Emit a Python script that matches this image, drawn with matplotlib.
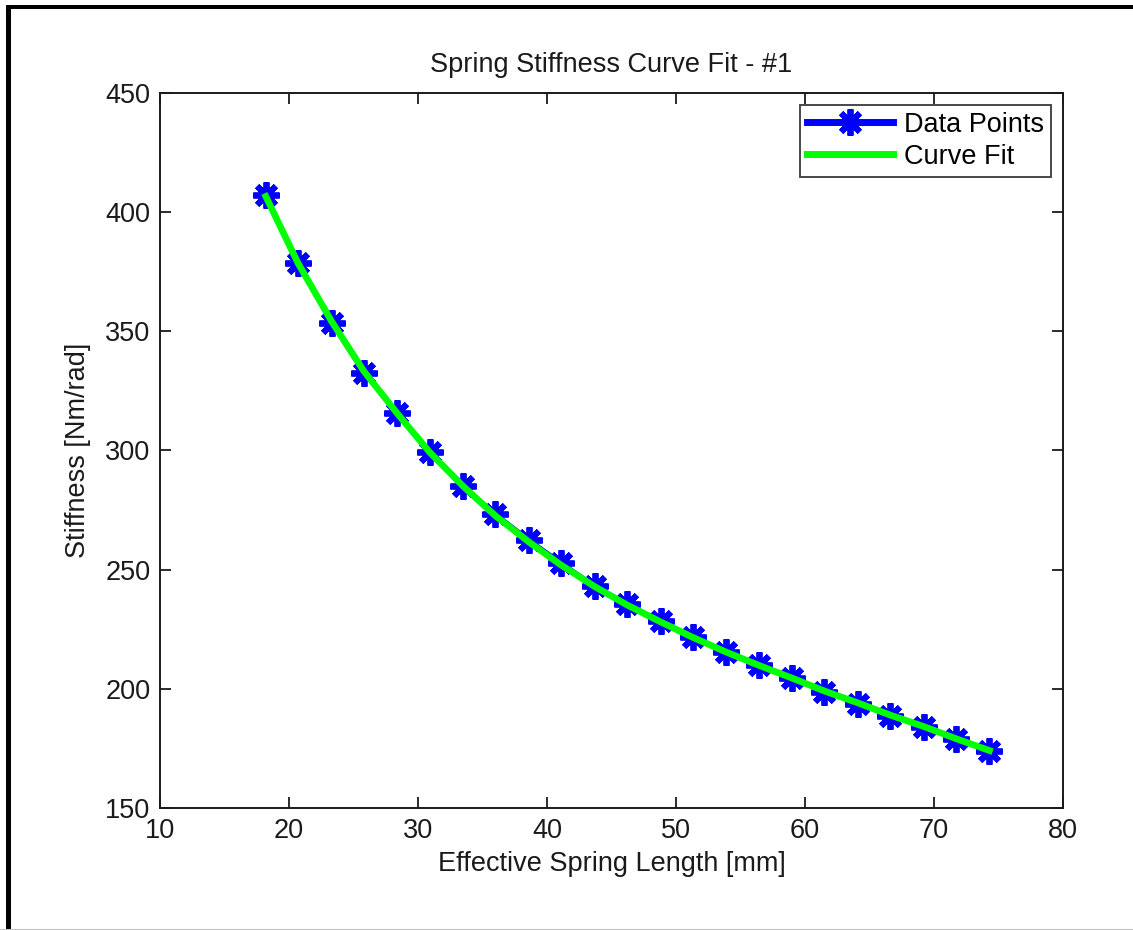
import numpy as np
import matplotlib.pyplot as plt
from matplotlib.lines import Line2D
from matplotlib.patches import Rectangle

plt.rcParams['font.family'] = ['Liberation Sans', 'DejaVu Sans']

# effective spring length [mm] and measured stiffness [Nm/rad]
length_mm = [18.2, 20.7, 23.3, 25.8, 28.4, 30.9, 33.5, 36.0, 38.6, 41.1, 43.7, 46.2,
             48.8, 51.3, 53.9, 56.4, 59.0, 61.5, 64.1, 66.6, 69.2, 71.7, 74.3]
stiffness = [407.2, 378.7, 353.5, 332.6, 315.8, 299.4, 285.2, 273.4, 262.5, 252.9, 243.2, 235.7,
             228.5, 221.8, 215.5, 210.0, 204.6, 198.7, 193.7, 188.7, 184.1, 179.0, 174.0]
# fitted curve evaluated at the same lengths
fit_k = [406.6, 378.6, 354.2, 333.3, 315.5, 299.3, 285.0, 272.6, 261.6, 251.9, 242.9, 235.2,
         228.1, 221.6, 215.4, 209.9, 204.5, 199.1, 194.1, 189.0, 184.2, 179.1, 174.1]

xticks = [10, 20, 30, 40, 50, 60, 70, 80]
yticks = [150, 200, 250, 300, 350, 400, 450]

fig = plt.figure(figsize=(11.33, 9.30), dpi=100)
ax = fig.add_axes([160 / 1133, 122 / 930, 903 / 1133, 715 / 930])

asterisk = (8, 2, 0)
ax.plot(length_mm, stiffness, color='#0000ff', lw=3, marker=asterisk,
        markersize=19, markeredgewidth=4.2, label='Data Points')
ax.plot(length_mm, fit_k, color='#00ff00', lw=4.8, label='Curve Fit')

ax.set_xlim(10, 80)
ax.set_ylim(150, 450)
ax.set_xticks(xticks)
ax.set_yticks(yticks)
ax.tick_params(direction='in', length=8, width=1.3, labelsize=19.5, top=True, right=True,
               pad=7, colors='#1a1a1a')
for s in ax.spines.values():
    s.set_linewidth(1.4)
    s.set_color('#1a1a1a')

ax.set_title('Spring Stiffness Curve Fit - #1', fontsize=19.5, pad=15, color='#1a1a1a')
ax.set_xlabel('Effective Spring Length [mm]', fontsize=19.5, labelpad=5, color='#1a1a1a')
ax.set_ylabel('Stiffness [Nm/rad]', fontsize=19.5, labelpad=10, color='#1a1a1a')

leg = ax.legend(loc='upper right', fontsize=19.5, frameon=True, fancybox=False,
                edgecolor='#1a1a1a', handlelength=3.2, borderpad=0.25, labelspacing=0.22,
                handletextpad=0.4, borderaxespad=0.45)
leg.get_frame().set_linewidth(1.4)
for h in leg.legend_handles:
    h.set_linewidth(5)

# page frame around the figure
fig.add_artist(Rectangle((6 / 1133, 0), 5 / 1133, 925 / 930, transform=fig.transFigure,
                         color='black', lw=0))
fig.add_artist(Rectangle((6 / 1133, 921 / 930), 1, 4 / 930, transform=fig.transFigure,
                         color='black', lw=0))
fig.add_artist(Line2D([0, 1], [0.5 / 930, 0.5 / 930], transform=fig.transFigure,
                      color='#c0c0c0', lw=1.5))

fig.savefig('out.png', dpi=100)
